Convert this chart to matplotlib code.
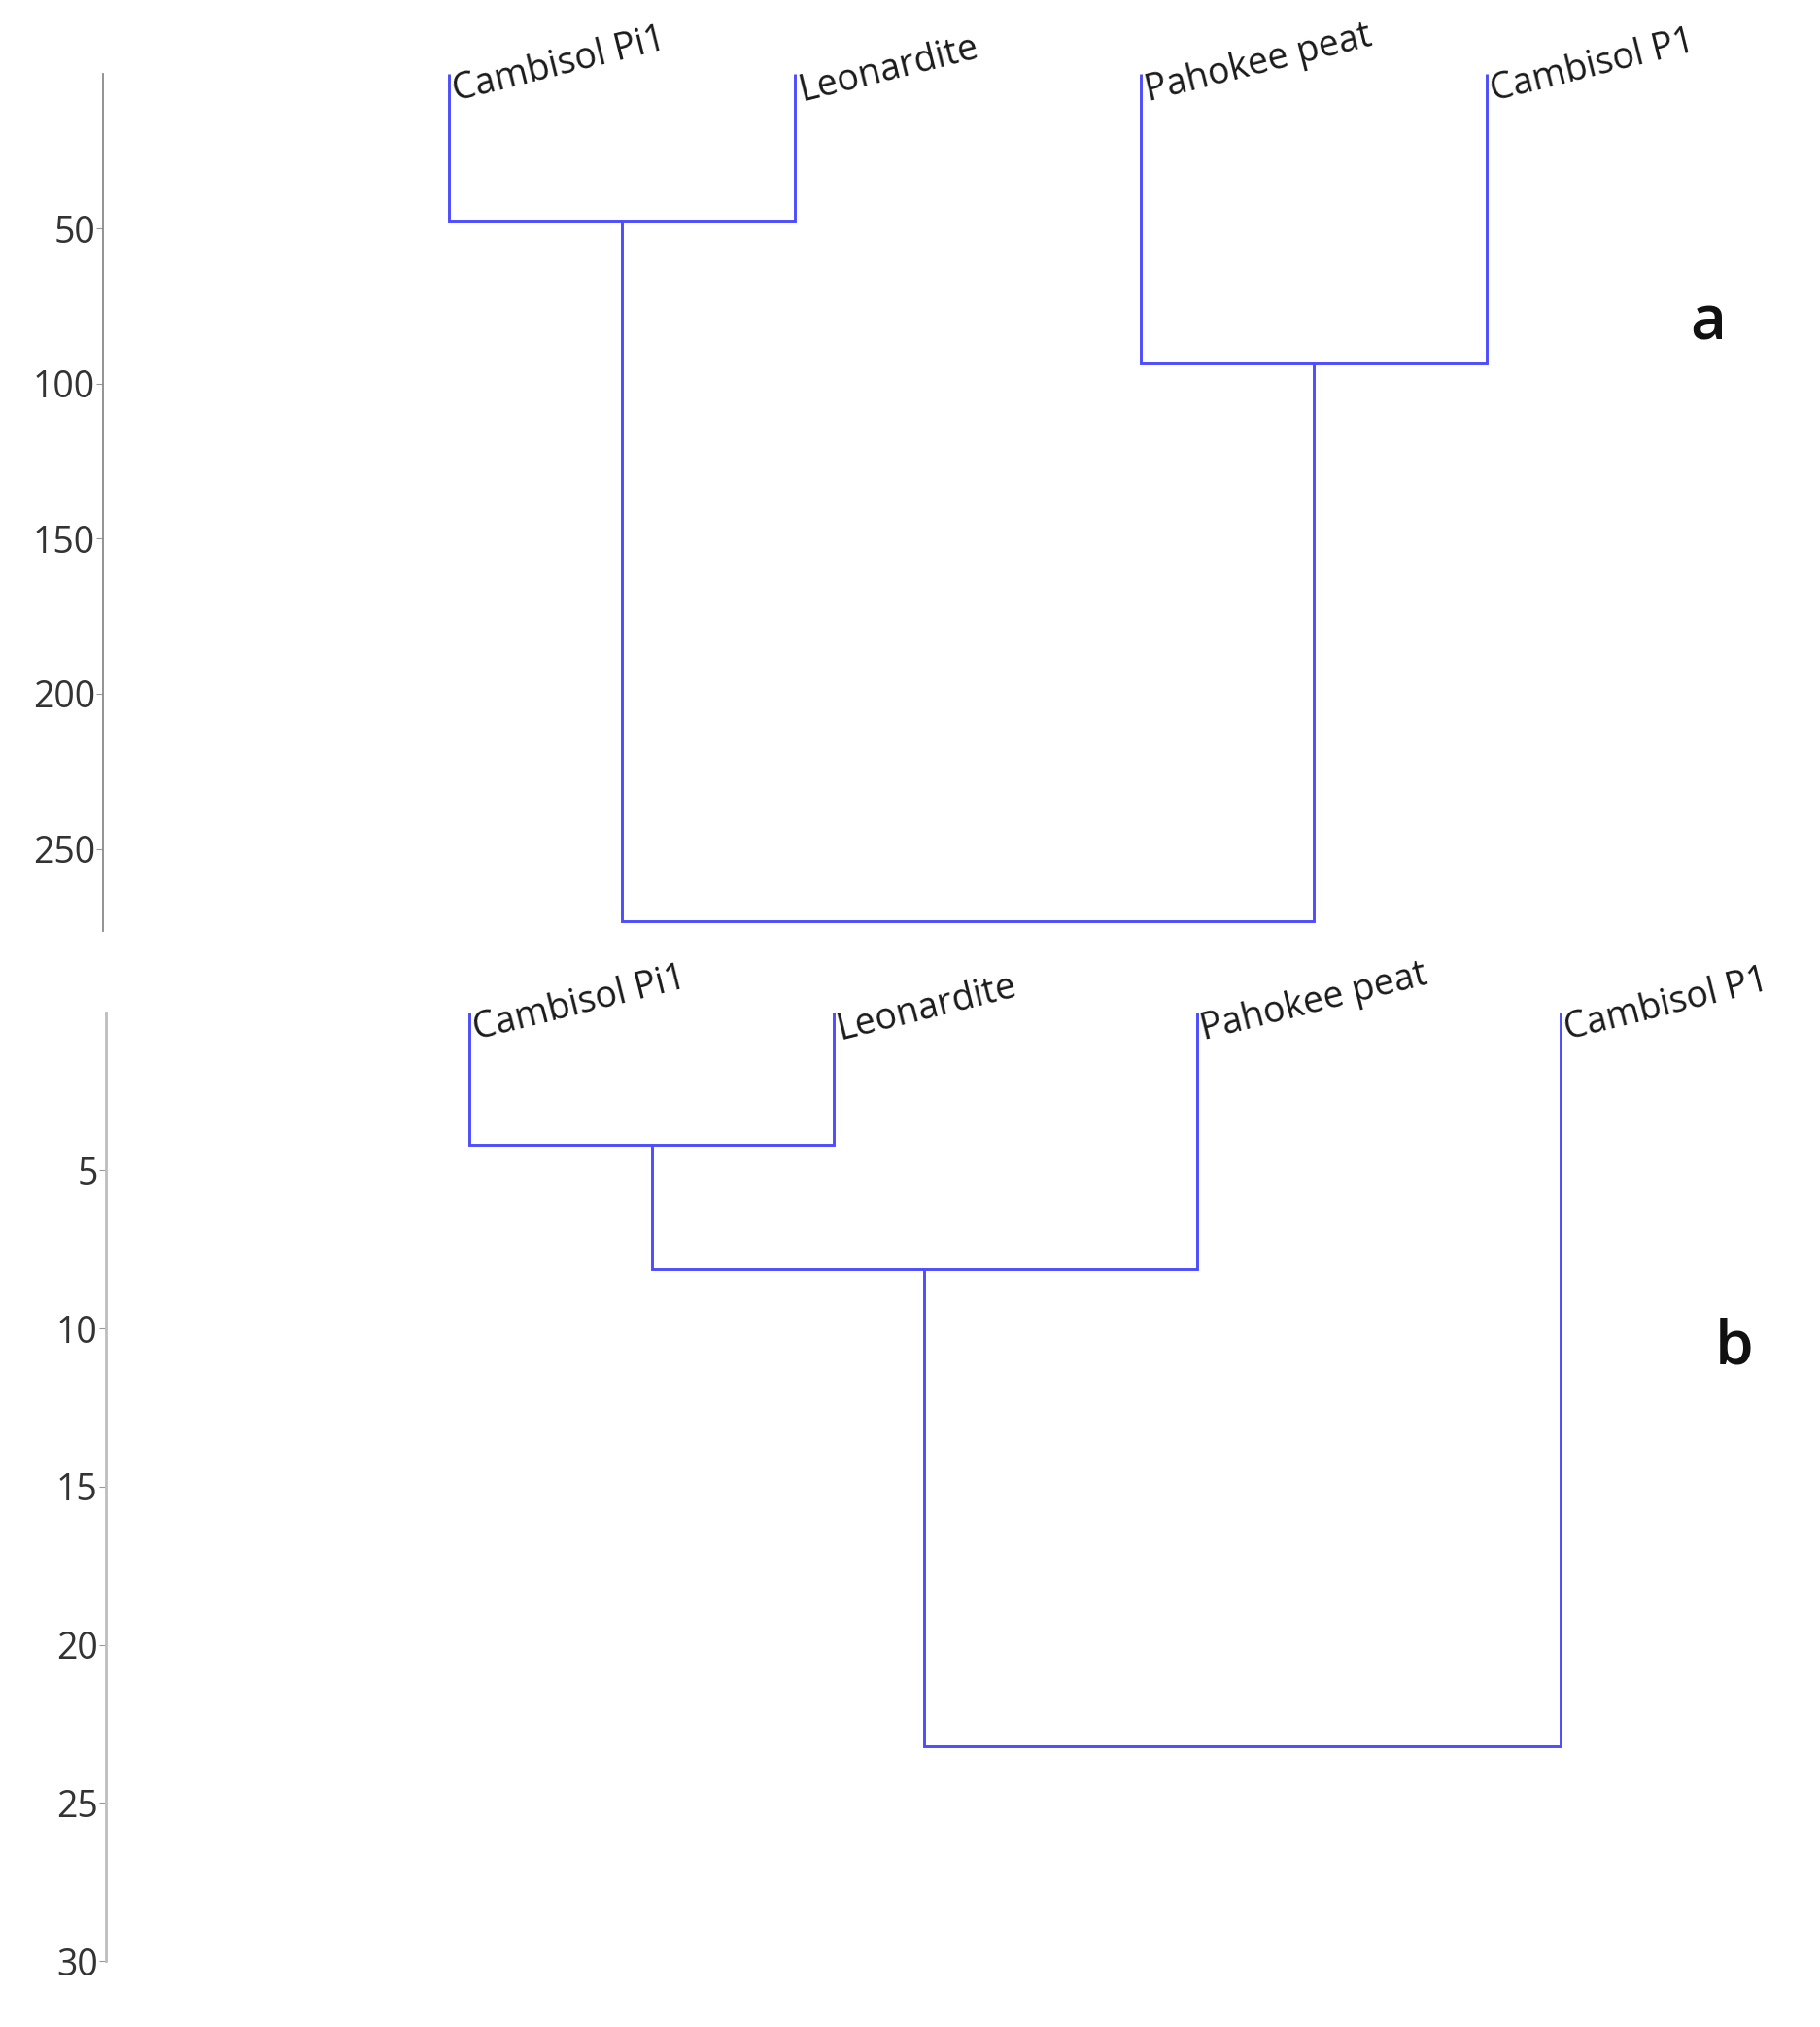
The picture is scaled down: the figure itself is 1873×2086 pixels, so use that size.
import matplotlib
matplotlib.use("Agg")
import matplotlib.pyplot as plt

# Sample names (leaf order left to right, same in both panels)
labels = ["Cambisol Pi1", "Leonardite", "Pahokee peat", "Cambisol P1"]

# Merges as (child, child, height); leaves are 0-3, new clusters 4, 5, 6
merges_a = [(0, 1, 47.4), (2, 3, 93.6), (4, 5, 273.2)]
merges_b = [(0, 1, 4.18), (4, 2, 8.12), (5, 3, 23.2)]

yticks_a = [50, 100, 150, 200, 250]
yticks_b = [5, 10, 15, 20, 25, 30]

line_color = "#4d4dff"
plt.rcParams['font.family'] = ['Open Sans', 'DejaVu Sans']

fig = plt.figure(figsize=(18.74, 20.86), dpi=100)


def draw_dendro(ax, merges, ymax, yticks, spine_color, spine_lw):
    xs = {i: float(i + 1) for i in range(len(labels))}
    ys = {i: 0.0 for i in range(len(labels))}
    node = len(labels)
    for left, right, h in merges:
        ax.plot([xs[left], xs[left], xs[right], xs[right]],
                [ys[left], h, h, ys[right]],
                color=line_color, lw=2.1, solid_capstyle='butt',
                solid_joinstyle='miter', clip_on=False)
        xs[node] = (xs[left] + xs[right]) / 2
        ys[node] = h
        node += 1

    for i, name in enumerate(labels):
        ax.text(xs[i], 0, name, rotation=14, rotation_mode='anchor',
                ha='left', va='top', fontsize=27, color='#1a1a1a',
                clip_on=False)

    ax.set_ylim(ymax, 0)
    ax.set_yticks(yticks)
    ax.set_xticks([])
    for side in ['top', 'right', 'bottom']:
        ax.spines[side].set_visible(False)
    ax.spines['left'].set_color(spine_color)
    ax.spines['left'].set_linewidth(spine_lw)
    ax.tick_params(axis='y', length=5, width=0.8, color='#999999',
                   pad=1, labelsize=27, labelcolor='#333333')


# panel a
ax1 = fig.add_axes([0.0568, 0.5407, 0.9432, 0.4230])
ax1.set_xlim(0, 4.965)
draw_dendro(ax1, merges_a, 276.5, yticks_a, '#8a8a8a', 1.3)
fig.text(0.938, 1 - 333 / 2086, "a", fontsize=46, fontweight='semibold',
         ha='center', va='center', color='#111111')

# panel b
ax2 = fig.add_axes([0.0582, 0.0325, 0.9418, 0.4681])
ax2.set_xlim(0, 4.715)
draw_dendro(ax2, merges_b, 30, yticks_b, '#bdbdbd', 2.0)
fig.text(0.9525, 1 - 1387 / 2086, "b", fontsize=46, fontweight='semibold',
         ha='center', va='center', color='#111111')

fig.savefig("out.png", dpi=100, facecolor='white')
plt.close(fig)
